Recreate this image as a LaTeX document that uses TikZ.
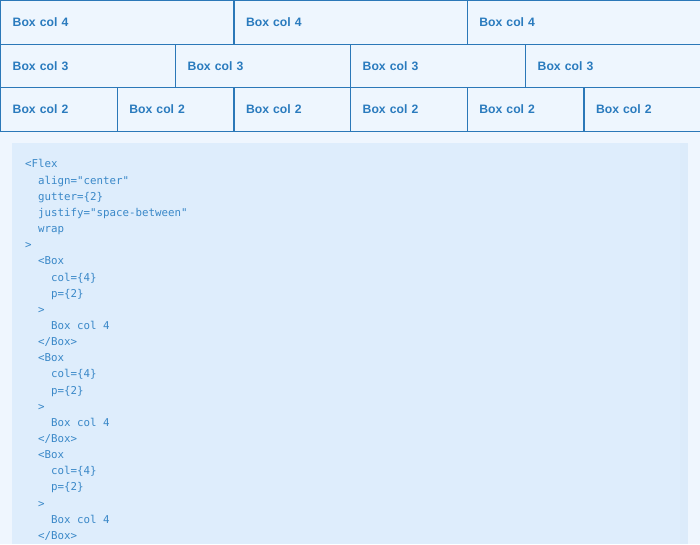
\documentclass[tikz,border=0pt]{standalone}
\usepackage{fontspec}
\setsansfont{Liberation Sans}
\setmonofont{DejaVu Sans Mono}
\usepackage{tikz}

\definecolor{pagebg}{HTML}{EFF6FE}
\definecolor{cellbg}{HTML}{EEF6FE}
\definecolor{codebg}{HTML}{DEEDFC}
\definecolor{barbg}{HTML}{DCEBFA}
\definecolor{edge}{HTML}{2B78B8}
\definecolor{ink}{HTML}{2A7BBE}
\definecolor{codeink}{HTML}{3A88C8}

\newcommand{\tab}{\phantom{xx}}

\tikzset{
  cellbox/.style={shape=rectangle,draw=edge,fill=cellbg,line width=1.4pt,
    anchor=north west,minimum height=43.5pt,inner xsep=12pt,inner ysep=0pt,
    text width=#1-24pt,align=left,text=ink,
    font=\sffamily\bfseries\fontsize{12.2}{14}\selectfont},
}

\begin{document}
\begin{tikzpicture}[x=1pt,y=-1pt]
		\useasboundingbox (0,0) rectangle (700,544);
		\fill[pagebg] (0,0) rectangle (700,544);

		% row of col 4
		\node[cellbox=233.33pt] (A1) at (0,0){Box col 4};
		\node[cellbox=233.33pt] (A2) at (233.33,0){Box col 4};
		\node[cellbox=233.33pt] (A3) at (466.67,0){Box col 4};

		% row of col 3
		\node[cellbox=175pt] (B1) at (0,43.5){Box col 3};
		\node[cellbox=175pt] (B2) at (175,43.5){Box col 3};
		\node[cellbox=175pt] (B3) at (350,43.5){Box col 3};
		\node[cellbox=175pt] (B4) at (525,43.5){Box col 3};

		% row of col 2
		\node[cellbox=116.67pt] (C1) at (0,87){Box col 2};
		\node[cellbox=116.67pt] (C2) at (116.67,87){Box col 2};
		\node[cellbox=116.67pt] (C3) at (233.33,87){Box col 2};
		\node[cellbox=116.67pt] (C4) at (350,87){Box col 2};
		\node[cellbox=116.67pt] (C5) at (466.67,87){Box col 2};
		\node[cellbox=116.67pt] (C6) at (583.33,87){Box col 2};

		% code sample
		\fill[codebg] (12,143) rectangle (688,544);
		\fill[barbg] (680,143) rectangle (688,544);
		\node[anchor=north west,inner sep=0pt,align=left,text=codeink,
			font=\ttfamily\fontsize{10.8}{16.15}\selectfont] (code) at (25,159.5){%
<Flex\\
\tab align="center"\\
\tab gutter=\{2\}\\
\tab justify="space-between"\\
\tab wrap\\
>\\
\tab <Box\\
\tab\tab col=\{4\}\\
\tab\tab p=\{2\}\\
\tab >\\
\tab\tab Box col 4\\
\tab </Box>\\
\tab <Box\\
\tab\tab col=\{4\}\\
\tab\tab p=\{2\}\\
\tab >\\
\tab\tab Box col 4\\
\tab </Box>\\
\tab <Box\\
\tab\tab col=\{4\}\\
\tab\tab p=\{2\}\\
\tab >\\
\tab\tab Box col 4\\
\tab </Box>};
		\end{tikzpicture}
\end{document}
